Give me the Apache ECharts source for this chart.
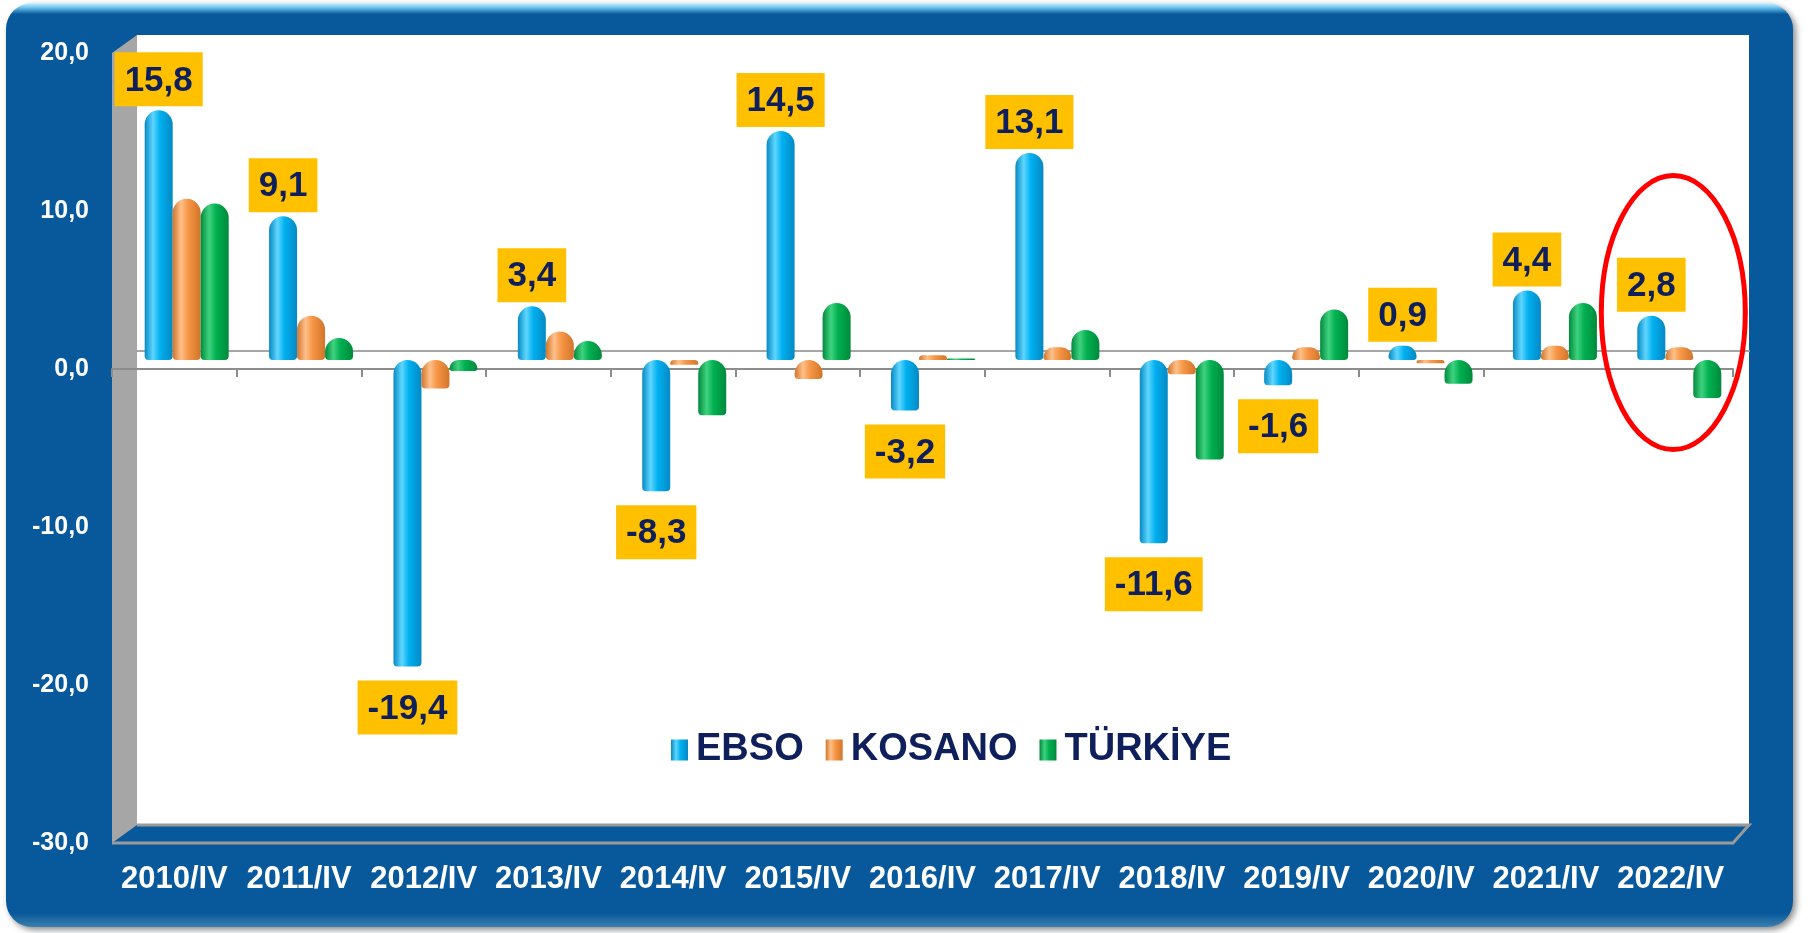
<!DOCTYPE html>
<html>
<head>
<meta charset="utf-8">
<title>EBSO - KOSANO - TÜRKİYE</title>
<script src="https://cdn.jsdelivr.net/npm/echarts@6/dist/echarts.min.js"></script>
<style>
  html, body { margin: 0; padding: 0; background: #fff; }
  #chart { width: 1816px; height: 933px; }
</style>
</head>
<body>
<div id="chart"></div>
<script>
const categories = ['2010/IV', '2011/IV', '2012/IV', '2013/IV', '2014/IV', '2015/IV', '2016/IV',
  '2017/IV', '2018/IV', '2019/IV', '2020/IV', '2021/IV', '2022/IV'];
const ebso = [15.8, 9.1, -19.4, 3.4, -8.3, 14.5, -3.2, 13.1, -11.6, -1.6, 0.9, 4.4, 2.8];
const kosano = [10.2, 2.8, -1.8, 1.8, -0.3, -1.2, 0.3, 0.8, -0.9, 0.8, -0.2, 0.9, 0.8];
const turkiye = [9.9, 1.4, -0.7, 1.2, -3.5, 3.6, 0.1, 1.9, -6.3, 3.2, -1.5, 3.6, -2.4];
const seriesNames = ['EBSO', 'KOSANO', 'TÜRKİYE'];
const yMin = -30, yMax = 20, yStep = 10;
const markedCategory = '2022/IV';

const FONT = '"Liberation Sans", Arial, sans-serif';
const NAVY = '#0E1F5B';
const FRAME = '#07599B';

// 3d box: back wall, front plane (axes sit here) and the bars half way between
const back = { left: 137, top: 35, width: 1612, height: 790 };
const front = { left: 112, top: 53, width: 1621, height: 790 };
const mid = { left: 124.5, top: 44, width: 1617, height: 790 };

const fmt = v => v.toFixed(1).replace('.', ',');

function cylinder(light, base, dark) {
  return {
    type: 'linear', x: 0, y: 0, x2: 1, y2: 0,
    colorStops: [
      { offset: 0, color: dark },
      { offset: 0.3, color: light },
      { offset: 0.55, color: base },
      { offset: 1, color: dark }
    ]
  };
}

function barSeries(name, values, color, withLabel) {
  return {
    name: name,
    type: 'bar',
    xAxisIndex: 3,
    yAxisIndex: 2,
    barWidth: 28,
    barGap: '0%',
    data: values.map(v => ({ value: v, label: { distance: v < 0 ? 14 : 4 } })),
    itemStyle: { color: color, borderRadius: [14, 14, 4, 4] },
    label: withLabel ? {
      show: true,
      position: 'outside',
      formatter: p => fmt(p.value),
      backgroundColor: '#FFC000',
      color: NAVY,
      fontFamily: FONT,
      fontWeight: 'bold',
      fontSize: 35,
      padding: [11, 10, 8, 10]
    } : { show: false }
  };
}

function createChart() {
  const chart = echarts.init(document.getElementById('chart'));

  const options = {
    animation: false,
    backgroundColor: '#fff',
    graphic: [
      {
        type: 'rect', z: -10,
        shape: { x: 6, y: 3, width: 1787, height: 924, r: 26 },
        style: {
          fill: {
            type: 'linear', x: 0, y: 0, x2: 0, y2: 1,
            colorStops: [
              { offset: 0, color: '#CFF2FF' },
              { offset: 0.005, color: '#6CC3EE' },
              { offset: 0.012, color: FRAME },
              { offset: 0.985, color: FRAME },
              { offset: 1, color: '#3C7FAE' }
            ]
          },
          shadowBlur: 6, shadowOffsetX: 3, shadowOffsetY: 3, shadowColor: 'rgba(0,0,0,0.45)'
        }
      },
      {
        type: 'rect', z: -9,
        shape: { x: back.left, y: back.top, width: back.width, height: back.height },
        style: { fill: '#fff' }
      },
      {
        // left wall
        type: 'polygon', z: -8,
        shape: { points: [[front.left, front.top], [back.left, back.top],
          [back.left, back.top + back.height], [front.left, front.top + front.height]] },
        style: { fill: '#A6A6A6' }
      },
      {
        // floor edges
        type: 'polyline', z: -8,
        shape: { points: [[back.left, back.top + back.height], [back.left + back.width, back.top + back.height],
          [front.left + front.width, front.top + front.height], [front.left, front.top + front.height]] },
        style: { stroke: '#9A9A9A', lineWidth: 3, fill: null }
      }
    ],
    legend: {
      data: seriesNames,
      left: 666,
      top: 726,
      icon: 'rect',
      itemWidth: 17,
      itemHeight: 21,
      itemGap: 22,
      textStyle: { color: NAVY, fontFamily: FONT, fontWeight: 'bold', fontSize: 38, padding: [0, 0, 0, 3] }
    },
    grid: [
      Object.assign({ outerBoundsMode: 'none' }, back),
      Object.assign({ outerBoundsMode: 'none' }, front),
      Object.assign({ outerBoundsMode: 'none' }, mid)
    ],
    xAxis: [
      {
        // zero line on the back wall
        gridIndex: 0, type: 'category', data: categories, position: 'bottom',
        axisLine: { onZero: true, lineStyle: { color: '#A6A6A6', width: 2 } },
        axisTick: { show: false }, axisLabel: { show: false }, splitLine: { show: false }
      },
      {
        gridIndex: 1, type: 'category', data: categories, position: 'bottom',
        axisLine: { show: false, onZero: false }, axisTick: { show: false },
        axisLabel: { interval: 0, color: '#fff', fontFamily: FONT, fontWeight: 'bold', fontSize: 31, margin: 21 }
      },
      {
        // front zero line with ticks
        gridIndex: 1, type: 'category', data: categories, position: 'top',
        axisLine: { onZero: true, lineStyle: { color: '#8C8C8C', width: 2 } },
        axisTick: { show: true, inside: true, length: 8, lineStyle: { color: '#8C8C8C', width: 2 } },
        axisLabel: { show: false }
      },
      { gridIndex: 2, type: 'category', data: categories, show: false }
    ],
    yAxis: [
      { gridIndex: 0, type: 'value', min: yMin, max: yMax, interval: yStep, show: false },
      {
        gridIndex: 1, type: 'value', min: yMin, max: yMax, interval: yStep,
        axisLine: { show: false }, axisTick: { show: false }, splitLine: { show: false },
        axisLabel: { formatter: fmt, color: '#fff', fontFamily: FONT, fontWeight: 'bold', fontSize: 25, margin: 23 }
      },
      { gridIndex: 2, type: 'value', min: yMin, max: yMax, interval: yStep, show: false }
    ],
    series: [
      barSeries(seriesNames[0], ebso, cylinder('#5FD6FF', '#00B0F0', '#0589C4'), true),
      barSeries(seriesNames[1], kosano, cylinder('#FFC08A', '#F79646', '#D2752A'), false),
      barSeries(seriesNames[2], turkiye, cylinder('#3FD27F', '#00B050', '#008A3C'), false)
    ]
  };

  chart.setOption(options);

  // red ring around the last period
  const c = chart.convertToPixel({ xAxisIndex: 3, yAxisIndex: 2 }, [markedCategory, 3]);
  chart.setOption({
    graphic: [{
      id: 'mark', type: 'ellipse', z: 20,
      shape: { cx: c[0] - 6, cy: c[1], rx: 72, ry: 137 },
      style: { stroke: '#FF0000', lineWidth: 5, fill: null }
    }]
  });

  window.addEventListener('resize', () => chart.resize());
}

createChart();
</script>
</body>
</html>
